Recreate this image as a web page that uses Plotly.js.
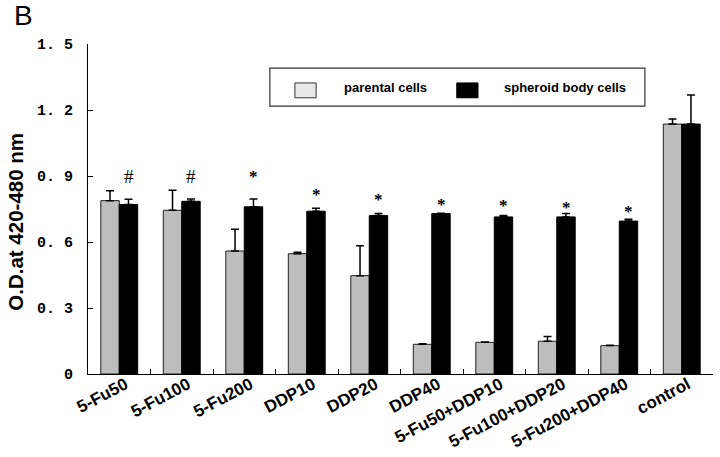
<!DOCTYPE html>
<html>
<head>
<meta charset="utf-8">
<script src="https://cdn.plot.ly/plotly-3.0.1.min.js"></script>
<style>
  html, body { margin: 0; padding: 0; background: #fff; }
  #plot { width: 720px; height: 457px; }
</style>
</head>
<body>
<div id="plot"></div>
<script>
// treatment groups
var groups = ["5-Fu50", "5-Fu100", "5-Fu200", "DDP10", "DDP20", "DDP40",
  "5-Fu50+DDP10", "5-Fu100+DDP20", "5-Fu200+DDP40", "control"];

// mean O.D. values
var parental = [0.788, 0.744, 0.559, 0.547, 0.447, 0.135, 0.144, 0.149, 0.129, 1.136];
var parentalErr = [0.045, 0.091, 0.099, 0.006, 0.136, 0.002, 0.002, 0.021, 0.002, 0.023];
var spheroid = [0.770, 0.785, 0.760, 0.740, 0.720, 0.729, 0.714, 0.714, 0.695, 1.136];
var spheroidErr = [0.024, 0.010, 0.035, 0.013, 0.009, 0.002, 0.007, 0.015, 0.008, 0.132];

// significance marks above the spheroid bars
var sigMark = ["#", "#", "*", "*", "*", "*", "*", "*", "*", ""];
var sigY = [0.90, 0.90, 0.897, 0.817, 0.791, 0.771, 0.764, 0.758, 0.738, null];

var yTicks = [0, 0.3, 0.6, 0.9, 1.2, 1.5];
var yTickText = ["0", "0. 3", "0. 6", "0. 9", "1. 2", "1. 5"];

var trace1 = {
  x: groups,
  y: parental,
  name: "parental cells",
  type: "bar",
  marker: { color: "#bdbdbd", line: { color: "#222", width: 1 } },
  error_y: { type: "data", array: parentalErr, arrayminus: parentalErr.map(function () { return 0; }),
    symmetric: false, color: "#000", thickness: 1.5, width: 4 }
};

var trace2 = {
  x: groups,
  y: spheroid,
  name: "spheroid body cells",
  type: "bar",
  marker: { color: "#000", line: { color: "#000", width: 1 } },
  error_y: { type: "data", array: spheroidErr, arrayminus: spheroidErr.map(function () { return 0; }),
    symmetric: false, color: "#000", thickness: 1.5, width: 4 }
};

var annotations = [];
groups.forEach(function (g, i) {
  if (!sigMark[i]) return;
  annotations.push({
    x: i + 0.15, y: sigY[i], xref: "x", yref: "y", text: sigMark[i], showarrow: false,
    xanchor: "center", yanchor: "middle",
    font: sigMark[i] === "#"
      ? { family: "Liberation Serif", size: 19, color: "#000" }
      : { family: "Liberation Serif", size: 17, color: "#000", weight: "bold" }
  });
});

// panel letter
annotations.push({
  x: -0.122, y: 1.14, xref: "paper", yref: "paper", xanchor: "left", yanchor: "top",
  text: "B", showarrow: false, font: { family: "Liberation Sans", size: 28, color: "#000" }
});

// y title
annotations.push({
  x: -0.116, y: 0.46, xref: "paper", yref: "paper", xanchor: "center", yanchor: "middle",
  text: "<b>O.D.at 420-480 nm</b>",
  textangle: -90, showarrow: false, font: { family: "Liberation Sans", size: 20.5, color: "#000" }
});

// legend drawn as a boxed key
var shapes = [
  { type: "rect", xref: "paper", yref: "paper", x0: 0.291, x1: 0.891, y0: 0.812, y1: 0.927,
    line: { color: "#333", width: 1.2 }, fillcolor: "rgba(0,0,0,0)" },
  { type: "rect", xref: "paper", yref: "paper", x0: 0.331, x1: 0.365, y0: 0.837, y1: 0.882,
    line: { color: "#333", width: 1 }, fillcolor: "#e8e8e8" },
  { type: "rect", xref: "paper", yref: "paper", x0: 0.59, x1: 0.624, y0: 0.837, y1: 0.882,
    line: { color: "#000", width: 1 }, fillcolor: "#000" }
];
annotations.push({
  x: 0.406, y: 0.868, xref: "paper", yref: "paper", xanchor: "left", yanchor: "middle",
  text: "<b>parental cells</b>",
  showarrow: false, font: { family: "Liberation Sans", size: 13, color: "#000" }
});
annotations.push({
  x: 0.663, y: 0.868, xref: "paper", yref: "paper", xanchor: "left", yanchor: "middle",
  text: "<b>spheroid body cells</b>",
  showarrow: false, font: { family: "Liberation Sans", size: 13, color: "#000" }
});

var layout = {
  width: 720,
  height: 457,
  margin: { l: 88, r: 7, t: 44, b: 83 },
  paper_bgcolor: "#fff",
  plot_bgcolor: "#fff",
  barmode: "group",
  bargap: 0.41,
  bargroupgap: 0,
  showlegend: false,
  xaxis: {
    type: "category",
    showline: true, linecolor: "#000", linewidth: 1.2,
    ticks: "inside", tickson: "boundaries", ticklen: 5, tickcolor: "#000",
    tickangle: -28,
    tickfont: { family: "Liberation Sans", size: 17, color: "#000", weight: "bold" },
    ticklabelshift: 6,
    ticklabelstandoff: -7,
    showgrid: false, zeroline: false
  },
  yaxis: {
    range: [0, 1.5],
    showline: true, linecolor: "#000", linewidth: 1.2,
    ticks: "inside", ticklen: 5, tickcolor: "#000",
    tickvals: yTicks, ticktext: yTickText,
    tickfont: { family: "Liberation Mono", size: 15, color: "#000", weight: "bold" },
    ticklabelstandoff: 11,
    showgrid: false, zeroline: false
  },
  annotations: annotations,
  shapes: shapes
};

Plotly.newPlot("plot", [trace1, trace2], layout, { displayModeBar: false });
</script>
</body>
</html>
